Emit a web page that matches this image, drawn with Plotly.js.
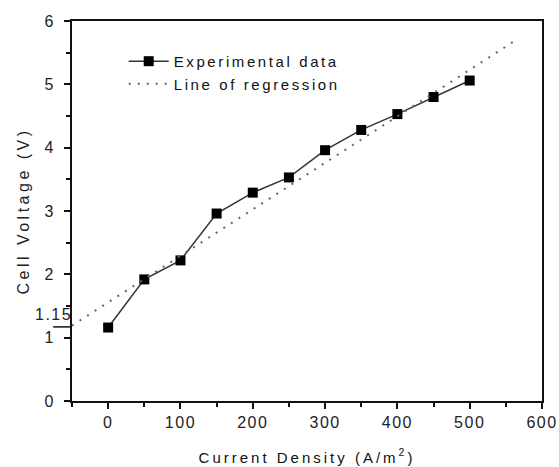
<!DOCTYPE html>
<html>
<head>
<meta charset="utf-8">
<script src="https://cdn.plot.ly/plotly-3.0.1.min.js"></script>
<style>
html,body{margin:0;padding:0;background:#fff;}
#chart{width:559px;height:467px;}
#chart .legendtext{letter-spacing:2.6px;}
#chart .xtitle{letter-spacing:3px;}
#chart .ytitle{letter-spacing:3.5px;}
#chart .xtick text, #chart .ytick text{letter-spacing:1.5px;}
#chart .annotation-text{letter-spacing:1.5px;}
</style>
</head>
<body>
<div id="chart"></div>
<script>
var currentDensity = [0, 50, 100, 150, 200, 250, 300, 350, 400, 450, 500];
var cellVoltage = [1.16, 1.92, 2.22, 2.96, 3.29, 3.53, 3.96, 4.28, 4.53, 4.80, 5.06];
var regressionX = [-50, 560];
var regressionY = [1.19, 5.67];
var xTickVals = [0, 100, 200, 300, 400, 500, 600];
var yTickVals = [0, 1, 2, 3, 4, 5, 6];
var interceptLabel = "1.15";
var interceptValue = 1.17;

var fontFam = "Liberation Sans, Arial, sans-serif";
var traces = [
  {x: currentDensity, y: cellVoltage, mode: "lines+markers", name: "Experimental data",
   line: {color: "#333", width: 1.5}, marker: {symbol: "square", size: 10, color: "#000"}},
  {x: regressionX, y: regressionY, mode: "lines", name: "Line of regression",
   line: {color: "#666", width: 2, dash: "2px,7px"}}
];
var axisCommon = {showline: true, linecolor: "#111", linewidth: 2, mirror: true, showgrid: false, zeroline: false,
  ticks: "outside", ticklen: 6, tickwidth: 2, tickcolor: "#111",
  minor: {ticks: "outside", ticklen: 4, tickwidth: 2, tickcolor: "#111"},
  tickfont: {family: fontFam, size: 16, color: "#222"}};
var layout = {
  width: 559, height: 467,
  margin: {l: 72, r: 17, t: 21, b: 66},
  paper_bgcolor: "#fff", plot_bgcolor: "#fff",
  showlegend: true,
  legend: {x: 0.11, y: 0.937, xanchor: "left", yanchor: "top", bgcolor: "rgba(0,0,0,0)",
    font: {family: fontFam, size: 15, color: "#111"}, tracegroupgap: 0, itemwidth: 40},
  xaxis: Object.assign({}, axisCommon, {range: [-50, 600], tickvals: xTickVals,
    minor: Object.assign({}, axisCommon.minor, {dtick: 50, tick0: 0}),
    title: {text: "Current Density (A/m<sup>2</sup>)", font: {family: fontFam, size: 15, color: "#111"}, standoff: 22}}),
  yaxis: Object.assign({}, axisCommon, {range: [0, 6], tickvals: yTickVals, ticklabelstandoff: 6,
    minor: Object.assign({}, axisCommon.minor, {dtick: 0.5, tick0: 0}),
    title: {text: "Cell Voltage (V)", font: {family: fontFam, size: 16, color: "#222"}, standoff: 12}}),
  shapes: [
    {type: "line", xref: "paper", yref: "y", x0: -0.04, x1: 0, y0: interceptValue, y1: interceptValue,
     line: {color: "#111", width: 1.5}}
  ],
  annotations: [
    {xref: "paper", yref: "y", x: -0.003, y: interceptValue + 0.2, xanchor: "right", yanchor: "middle",
     showarrow: false, text: interceptLabel, font: {family: fontFam, size: 16, color: "#222"}}
  ]
};
Plotly.newPlot("chart", traces, layout, {displayModeBar: false, staticPlot: true}).then(function (gd) {
  gd.querySelectorAll(".legend [clip-path]").forEach(function (el) { el.removeAttribute("clip-path"); });
});
</script>
</body>
</html>
